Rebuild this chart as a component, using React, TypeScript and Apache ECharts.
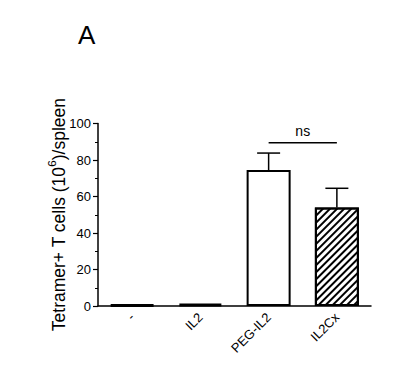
import React, { useEffect, useRef } from "react";
import * as echarts from "echarts";

const categories = ["-", "IL2", "PEG-IL2", "IL2Cx"];
const means = [0.6, 1.1, 74.5, 54.0];
const errors = [0, 0, 9.3, 10.5];
const yTicks = [0, 20, 40, 60, 80, 100];
const sigLabel = "ns";

export default function App() {
  const ref = useRef<HTMLDivElement>(null);
  useEffect(() => {
    if (!ref.current) return;
    const chart = echarts.init(ref.current, null, { renderer: "svg" });
    const font = "'Liberation Sans', Arial, sans-serif";
    const barData = means.map((v, i) => {
      const base: any = { value: v };
      if (i < 2) {
        base.itemStyle = { color: "#000", borderColor: "#000", borderWidth: 3 };
      } else if (i === 2) {
        base.itemStyle = { color: "#fff", borderColor: "#000", borderWidth: 2 };
      } else {
        base.itemStyle = {
          color: "#fff",
          borderColor: "#000",
          borderWidth: 2,
          decal: {
            symbol: "rect",
            symbolSize: 1,
            dashArrayX: [1, 0],
            dashArrayY: [1.5, 2.5],
            rotation: -Math.PI / 4,
            color: "#000",
            backgroundColor: "#fff",
          },
        };
      }
      return base;
    });
    chart.setOption({
      animation: false,
      aria: { enabled: false, decal: { show: true } },
      title: {
        text: "A",
        left: 78,
        top: 22,
        padding: 0,
        textStyle: { fontFamily: font, fontSize: 26, fontWeight: "normal", color: "#000" },
      },
      grid: { left: 98, right: 39, top: 123.5, bottom: 65 },
      xAxis: {
        type: "category",
        data: categories,
        axisLine: { lineStyle: { color: "#000", width: 1.5 } },
        axisTick: { alignWithLabel: true, length: 5, lineStyle: { color: "#000", width: 1.2 } },
        axisLabel: { rotate: 45, fontFamily: font, fontSize: 13, color: "#000", margin: 9 },
      },
      yAxis: {
        type: "value",
        min: 0,
        max: 100,
        interval: 20,
        name: "{a|Tetramer+ T cells (10}{s|6}{a|)/spleen}",
        nameLocation: "middle",
        nameRotate: 90,
        nameGap: 30,
        nameMoveOverlap: false,
        nameTextStyle: {
          fontFamily: font,
          color: "#000",
          rich: {
            a: { fontFamily: font, fontSize: 17.5, color: "#000", lineHeight: 22, verticalAlign: "bottom" },
            s: { fontFamily: font, fontSize: 11.5, color: "#000", lineHeight: 22, verticalAlign: "top" },
          },
        },
        axisLine: { show: true, lineStyle: { color: "#000", width: 1.5 } },
        axisTick: { show: true, length: 5, lineStyle: { color: "#000", width: 1.2 } },
        minorTick: { show: true, splitNumber: 2, length: 3, lineStyle: { color: "#000", width: 1 } },
        splitLine: { show: false },
        axisLabel: {
          fontFamily: font,
          fontSize: 13,
          color: "#000",
          margin: 7,
          formatter: (v: number) => (yTicks.includes(v) ? String(v) : ""),
        },
      },
      series: [
        {
          type: "bar",
          data: barData,
          barWidth: 44,
          z: 2,
        },
        {
          type: "custom",
          z: 3,
          data: means.map((m, i) => [i, m, errors[i]]),
          renderItem: (params: any, api: any) => {
            const i = api.value(0);
            const m = api.value(1);
            const e = api.value(2);
            if (!e) return { type: "group", children: [] };
            const p0 = api.coord([i, m]);
            const p1 = api.coord([i, m + e]);
            const hw = 11.5;
            return {
              type: "group",
              children: [
                { type: "line", shape: { x1: p0[0], y1: p0[1], x2: p1[0], y2: p1[1] }, style: { stroke: "#000", lineWidth: 1.5 } },
                { type: "line", shape: { x1: p1[0] - hw, y1: p1[1], x2: p1[0] + hw, y2: p1[1] }, style: { stroke: "#000", lineWidth: 1.5 } },
              ],
            };
          },
        },
        {
          type: "custom",
          z: 3,
          data: [[2, 3, 89.5]],
          renderItem: (params: any, api: any) => {
            const a = api.coord([api.value(0), api.value(2)]);
            const b = api.coord([api.value(1), api.value(2)]);
            return {
              type: "group",
              children: [
                { type: "line", shape: { x1: a[0], y1: a[1], x2: b[0], y2: b[1] }, style: { stroke: "#000", lineWidth: 1.5 } },
                {
                  type: "text",
                  style: {
                    text: sigLabel,
                    x: (a[0] + b[0]) / 2,
                    y: a[1] - 5,
                    textAlign: "center",
                    textVerticalAlign: "bottom",
                    fontFamily: font,
                    fontSize: 14,
                    fill: "#000",
                  },
                },
              ],
            };
          },
        },
      ],
    });
    return () => chart.dispose();
  }, []);
  return <div ref={ref} style={{ width: 410, height: 371, margin: -8, background: "#fff" }} />;
}
